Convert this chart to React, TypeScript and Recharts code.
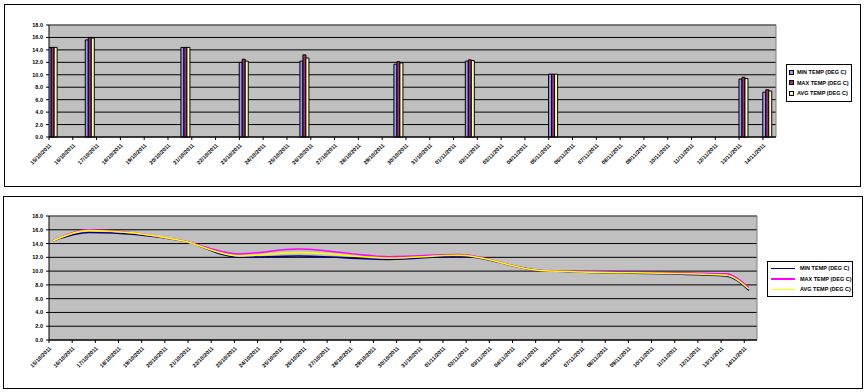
import {
  BarChart,
  Bar,
  LineChart,
  Line,
  XAxis,
  YAxis,
  CartesianGrid,
  ReferenceLine,
} from "recharts";

// axis labels, one per day
const dayLabels = [
  "15/10/2011", "16/10/2011", "17/10/2011", "18/10/2011", "19/10/2011", "20/10/2011",
  "21/10/2011", "22/10/2011", "23/10/2011", "24/10/2011", "25/10/2011", "26/10/2011",
  "27/10/2011", "28/10/2011", "29/10/2011", "30/10/2011", "31/10/2011", "01/11/2011",
  "02/11/2011", "03/11/2011", "04/11/2011", "05/11/2011", "06/11/2011", "07/11/2011",
  "08/11/2011", "09/11/2011", "10/11/2011", "11/11/2011", "12/11/2011", "13/11/2011",
  "14/11/2011",
];

// when each reading was taken (in days from the first label)
const readingDay = [0.17, 1.73, 5.75, 8.2, 10.75, 14.7, 17.7, 21.2, 29.2, 30.2];
const minTemp = [14.4, 15.6, 14.4, 12.0, 12.2, 11.7, 12.2, 10.1, 9.3, 7.2];
const maxTemp = [14.4, 16.0, 14.4, 12.5, 13.2, 12.1, 12.4, 10.1, 9.6, 7.6];
const avgTemp = [14.4, 15.9, 14.4, 12.2, 12.7, 11.9, 12.3, 10.1, 9.4, 7.4];

const yTicks = [0, 2, 4, 6, 8, 10, 12, 14, 16, 18];
const dayTicks = dayLabels.map((_, i) => i);

const MIN = "MIN TEMP (DEG C)";
const MAX = "MAX TEMP (DEG C)";
const AVG = "AVG TEMP (DEG C)";

const data = readingDay.map((d, i) => ({
  day: d,
  [MIN]: minTemp[i],
  [MAX]: maxTemp[i],
  [AVG]: avgTemp[i],
}));

const FONT = "Arial, 'Liberation Sans', sans-serif";
const xMax = 30.55;

const tickStyle = { fontSize: 5.5, fill: "#000", fontWeight: "bold" as const, fontFamily: FONT };

// legends are plain html boxes placed where Excel put them
function BarLegend() {
  const items = [
    { n: MIN, c: "#9999ff" },
    { n: MAX, c: "#993366" },
    { n: AVG, c: "#ffffcc" },
  ];
  return (
    <div style={{ position: "absolute", left: 786, top: 64, border: "1px solid #000", background: "#fff", padding: "2px 2px", width: 60 }}>
      {items.map((it) => (
        <div key={it.n} style={{ display: "flex", alignItems: "center", height: 10.5, fontFamily: FONT, fontSize: 5.5, fontWeight: "bold" }}>
          <span style={{ width: 3, height: 3, border: "1px solid #000", background: it.c, marginRight: 3, flexShrink: 0 }} />
          <span style={{ whiteSpace: "nowrap" }}>{it.n}</span>
        </div>
      ))}
    </div>
  );
}

function LineLegend() {
  const items = [
    { n: MIN, c: "#000080" },
    { n: MAX, c: "#ff00ff" },
    { n: AVG, c: "#ffff00" },
  ];
  return (
    <div style={{ position: "absolute", left: 767, top: 261, border: "1px solid #000", background: "#fff", padding: "1px 3px", width: 78 }}>
      {items.map((it) => (
        <div key={it.n} style={{ display: "flex", alignItems: "center", height: 10.5, fontFamily: FONT, fontSize: 5.5, fontWeight: "bold" }}>
          <span style={{ width: 24, height: 1.5, background: it.c, marginRight: 5, flexShrink: 0 }} />
          <span style={{ whiteSpace: "nowrap" }}>{it.n}</span>
        </div>
      ))}
    </div>
  );
}

export default function App() {
  const xAxisProps = {
    type: "number" as const,
    dataKey: "day",
    domain: [0, xMax],
    ticks: dayTicks,
    interval: 0,
    allowDataOverflow: true,
    tickFormatter: (i: number) => dayLabels[i] ?? "",
    tick: tickStyle,
    angle: -45,
    textAnchor: "end",
    tickSize: 3,
    tickMargin: 3,
    height: 45,
    stroke: "#000",
  };
  const yAxisProps = {
    domain: [0, 18],
    ticks: yTicks,
    interval: 0,
    width: 30,
    tickFormatter: (v: number) => v.toFixed(1),
    tick: tickStyle,
    tickSize: 3,
    tickMargin: 3,
    stroke: "#000",
  };
  return (
    <div style={{ position: "fixed", left: 0, top: 0, width: 864, height: 392, background: "#fff", overflow: "hidden" }}>
      <div style={{ position: "absolute", left: 4, top: 4, width: 855, height: 181, border: "1px solid #000" }} />
      <div style={{ position: "absolute", left: 3, top: 196, width: 858, height: 191, border: "1px solid #000" }} />

      <div style={{ position: "absolute", left: 0, top: 0 }}>
        <BarChart width={864} height={190} data={data} barGap={0} margin={{ top: 25, right: 88, bottom: 8, left: 19 }}>
          <CartesianGrid fill="#c0c0c0" stroke="#000" vertical={false} />
          <XAxis {...(xAxisProps as any)} />
          <YAxis {...(yAxisProps as any)} />
          <ReferenceLine y={18} stroke="#808080" />
          <ReferenceLine x={xMax} stroke="#808080" />
          <Bar dataKey={MIN} fill="#9999ff" stroke="#000" strokeWidth={1} barSize={3} isAnimationActive={false} />
          <Bar dataKey={MAX} fill="#993366" stroke="#000" strokeWidth={1} barSize={3} isAnimationActive={false} />
          <Bar dataKey={AVG} fill="#ffffcc" stroke="#000" strokeWidth={1} barSize={3} isAnimationActive={false} />
        </BarChart>
      </div>
      <BarLegend />

      <div style={{ position: "absolute", left: 0, top: 192 }}>
        <LineChart width={864} height={200} data={data} margin={{ top: 24, right: 107, bottom: 7, left: 19 }}>
          <CartesianGrid fill="#c0c0c0" stroke="#000" vertical={false} />
          <XAxis {...(xAxisProps as any)} />
          <YAxis {...(yAxisProps as any)} />
          <ReferenceLine y={18} stroke="#808080" />
          <ReferenceLine x={xMax} stroke="#808080" />
          <Line type="monotone" dataKey={MIN} stroke="#000080" strokeWidth={1.5} dot={false} isAnimationActive={false} />
          <Line type="monotone" dataKey={MAX} stroke="#ff00ff" strokeWidth={1.5} dot={false} isAnimationActive={false} />
          <Line type="monotone" dataKey={AVG} stroke="#ffff00" strokeWidth={1.5} dot={false} isAnimationActive={false} />
        </LineChart>
      </div>
      <LineLegend />
    </div>
  );
}
